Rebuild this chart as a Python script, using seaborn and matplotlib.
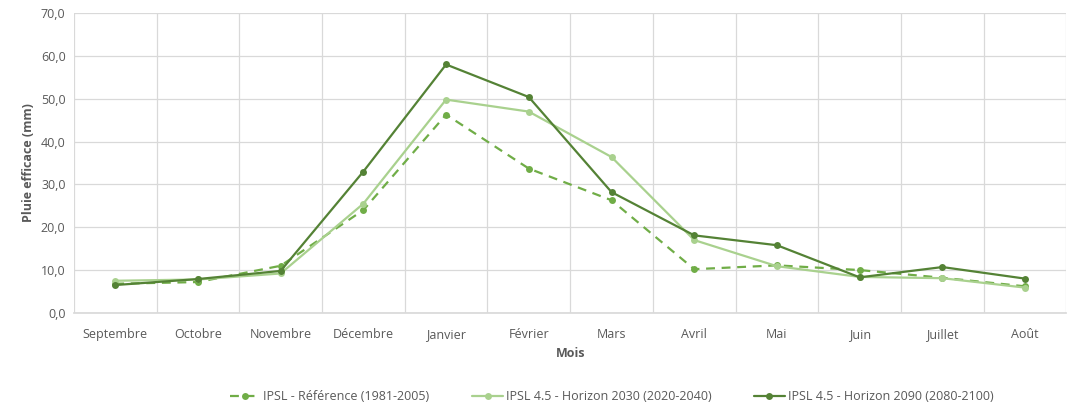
import pandas as pd
import numpy as np
import matplotlib
matplotlib.use('Agg')
import matplotlib.pyplot as plt
import seaborn as sns

# Data
mois = ['Septembre', 'Octobre', 'Novembre', 'Décembre', 'Janvier', 'Février',
        'Mars', 'Avril', 'Mai', 'Juin', 'Juillet', 'Août']
reference = [6.8, 7.2, 11.0, 24.0, 46.3, 33.7, 26.3, 10.2, 11.1, 10.0, 8.2, 6.2]
horizon_2030 = [7.5, 7.8, 9.2, 25.5, 49.8, 47.0, 36.4, 17.0, 10.9, 8.4, 8.1, 5.9]
horizon_2090 = [6.5, 7.9, 9.8, 33.0, 58.0, 50.4, 28.2, 18.1, 15.8, 8.3, 10.7, 8.0]
series_names = ['IPSL - Référence (1981-2005)',
                'IPSL 4.5 - Horizon 2030 (2020-2040)',
                'IPSL 4.5 - Horizon 2090 (2080-2100)']

df = pd.DataFrame({
    'Mois': mois * 3,
    'Pluie': reference + horizon_2030 + horizon_2090,
    'Serie': np.repeat(series_names, len(mois)),
})
df['x'] = np.tile(np.arange(len(mois)), 3)

sns.set_theme(style="white")
plt.rcParams['font.family'] = ['Open Sans', 'DejaVu Sans']

palette = {series_names[0]: '#70ad47',
           series_names[1]: '#a9d18e',
           series_names[2]: '#548235'}
dashes = {series_names[0]: (4, 3),
          series_names[1]: '',
          series_names[2]: ''}

fig = plt.figure(figsize=(10.86, 4.09), dpi=100)
ax = fig.add_axes([0.068, 0.235, 0.914, 0.733])

sns.lineplot(data=df, x='x', y='Pluie', hue='Serie', style='Serie',
             palette=palette, dashes=dashes, markers={s: 'o' for s in series_names},
             markersize=5, markeredgewidth=0, linewidth=1.6, ax=ax)

ax.set_xlim(-0.5, len(mois) - 0.5)
ax.set_ylim(0, 70)
ax.set_yticks(np.arange(0, 71, 10))
ax.set_yticklabels([f'{v:.1f}'.replace('.', ',') for v in np.arange(0, 71, 10)])
ax.set_xticks(np.arange(len(mois)))
ax.set_xticklabels(mois)
ax.set_xticks(np.arange(-0.5, len(mois), 1), minor=True)
ax.grid(True, which='minor', axis='x', color='#d9d9d9', linewidth=0.9)
ax.grid(True, which='major', axis='y', color='#d9d9d9', linewidth=0.9)
ax.tick_params(axis='x', which='both', length=0, labelsize=9, colors='#595959', pad=11)
ax.tick_params(axis='y', which='both', length=0, labelsize=9, colors='#595959', pad=6)

for s in ['left', 'right', 'top']:
    ax.spines[s].set_visible(False)
ax.spines['bottom'].set_color('#d9d9d9')

ax.set_xlabel('Mois', fontsize=9, fontweight='bold', color='#595959', labelpad=4)
ax.set_ylabel('Pluie efficace (mm)', fontsize=9, fontweight='bold', color='#595959')

handles, labels = ax.get_legend_handles_labels()
ax.get_legend().remove()
fig.legend(handles, labels, loc='center', bbox_to_anchor=(0.563, 0.03),
           ncol=3, frameon=False, fontsize=9, labelcolor='#595959',
           handlelength=2.5, handletextpad=0.2, columnspacing=3.4)

plt.savefig('out.png', dpi=100)
